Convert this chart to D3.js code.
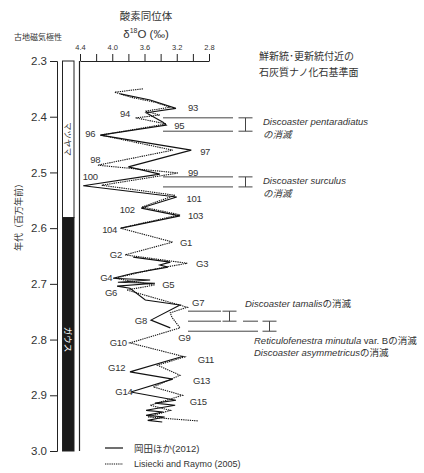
<!DOCTYPE html>
<html><head><meta charset="utf-8">
<script src="https://cdn.jsdelivr.net/npm/d3@7"></script>
<style>
body{margin:0;background:#fff;}
text{font-family:"Liberation Sans",Arial,"Noto Sans CJK JP",sans-serif;fill:#333;}
</style></head><body>
<svg id="c" width="424" height="473"></svg>
<script>
// ---- data ----
const okadaAge = [2.359,2.370,2.385,2.393,2.410,2.415,2.433,2.460,2.490,2.503,2.524,2.544,2.564,2.578,2.600,
  null,2.652,2.661,2.666,2.670,2.681,2.690,2.693,2.697,2.699,2.704,2.708,2.729,2.738,2.765,2.779,
  null,2.830,2.858,2.871,2.894,2.909,2.914,2.918,2.927,2.930,2.936,2.939,2.945,2.948];
const okadaD18O = [3.90,3.53,3.21,3.58,3.37,3.33,4.15,3.02,3.80,3.41,4.36,3.20,3.64,3.16,3.89,
  null,3.74,3.28,3.41,3.31,3.74,3.99,3.53,3.93,3.47,3.94,3.78,3.59,3.16,3.52,3.28,
  null,3.12,3.78,3.25,3.77,3.21,3.47,3.22,3.58,3.37,3.58,3.35,3.56,3.38];
const lrAge = [2.350,2.356,2.365,2.374,2.383,2.390,2.397,2.402,2.413,2.433,2.460,2.487,2.501,2.523,2.541,2.562,2.576,2.600,
  2.625,2.648,2.663,2.675,2.690,2.702,2.711,2.742,2.752,2.760,2.779,2.806,2.831,2.846,2.864,2.885,2.900,2.918,2.927,2.939,2.946];
const lrD18O = [3.62,3.97,3.77,3.47,3.28,3.59,3.41,3.71,3.33,4.14,3.25,4.18,3.18,4.13,3.22,3.63,3.16,3.90,
  3.25,3.84,3.07,3.53,3.97,3.47,3.82,3.07,3.28,3.26,3.16,3.78,3.10,3.44,3.16,3.49,3.13,3.53,3.28,3.56,2.94];
const misLabels = ["93","94","95","96","97","98","99","100","101","102","103","104",
  "G1","G2","G3","G4","G5","G6","G7","G8","G9","G10","G11","G12","G13","G14","G15"];
const misAges = [2.384,2.395,2.415,2.431,2.462,2.476,2.501,2.508,2.546,2.566,2.578,2.602,
  2.625,2.647,2.664,2.688,2.702,2.715,2.734,2.765,2.797,2.806,2.835,2.851,2.873,2.894,2.912];
const misD18O = [3.06,3.78,3.23,4.21,2.91,4.15,3.06,4.18,3.08,3.72,3.06,3.94,
  3.16,3.88,2.96,4.00,3.38,3.94,3.01,3.57,3.18,3.82,2.94,3.84,3.00,3.75,3.04];
const misSide = ["r","l","r","l","r","l","r","l","r","l","r","l",
  "r","l","r","l","r","l","r","l","r","l","r","l","r","l","r"];
const ageTicks = [2.3,2.4,2.5,2.6,2.7,2.8,2.9,3.0];
const d18OTicks = [4.4,4.2,4.0,3.8,3.6,3.4,3.2,3.0,2.8];
const d18OLabels = [4.4,4.0,3.6,3.2,2.8];
const polarityNames = ["マツヤマ","ガウス"];
const polarityBounds = [2.3,2.581,3.0];
const datumNames = ["Discoaster pentaradiatus","Discoaster surculus","Discoaster tamalis"];
const datumTop = [2.402,2.508,2.749];
const datumBottom = [2.426,2.526,2.767];
const datum2Top = 2.767, datum2Bottom = 2.785;
const datum2Names = ["Reticulofenestra minutula","Discoaster asymmetricus"];
const legendNames = ["岡田ほか(2012)","Lisiecki and Raymo (2005)"];

// ---- scales ----
const svg = d3.select("#c");
const y = d3.scaleLinear().domain([2.3,3.0]).range([61,451]);
const x = d3.scaleLinear().domain([4.4,2.8]).range([80,209]);
const ink = "#222";

// titles
svg.append("text").attr("x",146).attr("y",20).attr("text-anchor","middle").attr("font-size",10.5).text("酸素同位体");
const dt = svg.append("text").attr("x",146).attr("y",38).attr("text-anchor","middle").attr("font-size",11.5);
dt.append("tspan").text("δ");
dt.append("tspan").attr("font-size",7).attr("dy",-5).text("18");
dt.append("tspan").attr("dy",5).text("O (‰)");
svg.append("text").attr("x",38).attr("y",40).attr("text-anchor","middle").attr("font-size",8).text("古地磁気極性");
svg.append("text").attr("x",259).attr("y",60).attr("font-size",10).text("鮮新統･更新統付近の");
svg.append("text").attr("x",259).attr("y",76).attr("font-size",10).text("石灰質ナノ化石基準面");
svg.append("text").attr("transform","translate(22,215) rotate(-90)").attr("text-anchor","middle").attr("font-size",9).text("年代（百万年前）");

// left age axis
const ay = svg.append("g").attr("transform","translate(57,0)")
  .call(d3.axisLeft(y).tickValues(ageTicks).tickFormat(d3.format(".1f")).tickSize(7).tickPadding(3));
ay.select(".domain").attr("stroke",ink);
ay.selectAll(".tick line").attr("stroke",ink);
ay.selectAll("text").attr("font-size",11.5).attr("fill","#333").attr("font-family","Liberation Sans, Arial, sans-serif");

// polarity column
for (let i=0;i<2;i++){
  svg.append("rect").attr("x",62.5).attr("width",11.5)
    .attr("y",y(polarityBounds[i])).attr("height",y(polarityBounds[i+1])-y(polarityBounds[i]))
    .attr("fill",i===0?"#fff":"#1a1a1a").attr("stroke",ink).attr("stroke-width",1);
}
svg.append("text").attr("transform","translate(68,"+y(2.44)+") rotate(90)").attr("text-anchor","middle")
  .attr("dominant-baseline","central").attr("font-size",8.5).text(polarityNames[0]);
svg.append("text").attr("transform","translate(68,"+y(2.80)+") rotate(90)").attr("text-anchor","middle")
  .attr("dominant-baseline","central").attr("font-size",8.5).style("fill","#fff").text(polarityNames[1]);

// d18O axes
svg.append("line").attr("x1",79.5).attr("x2",79.5).attr("y1",y(2.3)).attr("y2",y(3.0)).attr("stroke",ink).attr("stroke-width",1.2);
const ax = svg.append("g").attr("transform","translate(0,61)")
  .call(d3.axisTop(x).tickValues(d18OTicks).tickSize(7).tickSizeOuter(0)
    .tickFormat(d=>d18OLabels.some(v=>Math.abs(v-d)<1e-6)?d3.format(".1f")(d):""));
ax.select(".domain").attr("stroke",ink).attr("stroke-width",1.2);
ax.selectAll(".tick line").attr("stroke",ink);
ax.selectAll("text").attr("font-size",7.5).attr("fill","#333").attr("font-family","Liberation Sans, Arial, sans-serif").attr("dy","-0.1em");

// curves
const line = d3.line().defined(d=>d[0]!==null).x(d=>x(d[1])).y(d=>y(d[0]));
svg.append("path").datum(lrAge.map((a,i)=>[a,lrD18O[i]]))
  .attr("d",line).attr("fill","none").attr("stroke","#111").attr("stroke-width",1.1).attr("stroke-dasharray","1.3,0.9");
svg.append("path").datum(okadaAge.map((a,i)=>[a,okadaD18O[i]]))
  .attr("d",line).attr("fill","none").attr("stroke","#111").attr("stroke-width",1.1);

// MIS labels
misLabels.forEach((t,i)=>{
  svg.append("text").attr("x",x(misD18O[i])).attr("y",y(misAges[i]))
    .attr("dominant-baseline","central").attr("text-anchor",misSide[i]==="r"?"start":"end")
    .attr("font-size",9.5).style("letter-spacing","-0.3px").text(t);
});

// datum lines
const dcol = "#444";
function hline(x1,x2,a){svg.append("line").attr("x1",x1).attr("x2",x2).attr("y1",y(a)).attr("y2",y(a)).attr("stroke",dcol).attr("stroke-width",1);}
function ibar(cx,a1,a2){
  svg.append("line").attr("x1",cx).attr("x2",cx).attr("y1",y(a1)).attr("y2",y(a2)).attr("stroke",dcol);
  [a1,a2].forEach(a=>svg.append("line").attr("x1",cx-7).attr("x2",cx+7).attr("y1",y(a)).attr("y2",y(a)).attr("stroke",dcol));
}
for (let i=0;i<2;i++){
  hline(163,233,datumTop[i]); hline(163,233,datumBottom[i]);
  ibar(245.5,datumTop[i],datumBottom[i]);
  const tt = svg.append("text").attr("x",263).attr("y",y(datumTop[i])+7).attr("font-size",9.5);
  tt.append("tspan").attr("font-style","italic").text(datumNames[i]);
  tt.append("tspan").attr("x",263).attr("dy",13).attr("font-style","italic").text("の消滅");
}
hline(188,221,datumTop[2]); hline(188,221,datumBottom[2]); hline(243,258,datumBottom[2]);
hline(188,258,datum2Bottom);
ibar(229.5,datumTop[2],datumBottom[2]);
ibar(269.5,datum2Top,datum2Bottom);
{
  const t1 = svg.append("text").attr("x",245).attr("y",y(datumTop[2])-4).attr("font-size",9.5);
  t1.append("tspan").attr("font-style","italic").text(datumNames[2]);
  t1.append("tspan").text("の消滅");
  const t2 = svg.append("text").attr("x",254).attr("y",y(datum2Bottom)+13).attr("font-size",9.5);
  t2.append("tspan").attr("font-style","italic").text(datum2Names[0]);
  t2.append("tspan").text(" var. Bの消滅");
  const t3 = svg.append("text").attr("x",254).attr("y",y(datum2Bottom)+25).attr("font-size",9.5);
  t3.append("tspan").attr("font-style","italic").text(datum2Names[1]);
  t3.append("tspan").text("の消滅");
}

// legend
svg.append("line").attr("x1",105).attr("x2",123).attr("y1",448).attr("y2",448).attr("stroke","#111").attr("stroke-width",1.2);
svg.append("text").attr("x",134).attr("y",448).attr("dominant-baseline","central").attr("font-size",9.5).text(legendNames[0]);
svg.append("line").attr("x1",105).attr("x2",123).attr("y1",464).attr("y2",464).attr("stroke","#111").attr("stroke-width",1.1).attr("stroke-dasharray","1.3,0.9");
svg.append("text").attr("x",134).attr("y",464).attr("dominant-baseline","central").attr("font-size",9).text(legendNames[1]);
</script></body></html>
